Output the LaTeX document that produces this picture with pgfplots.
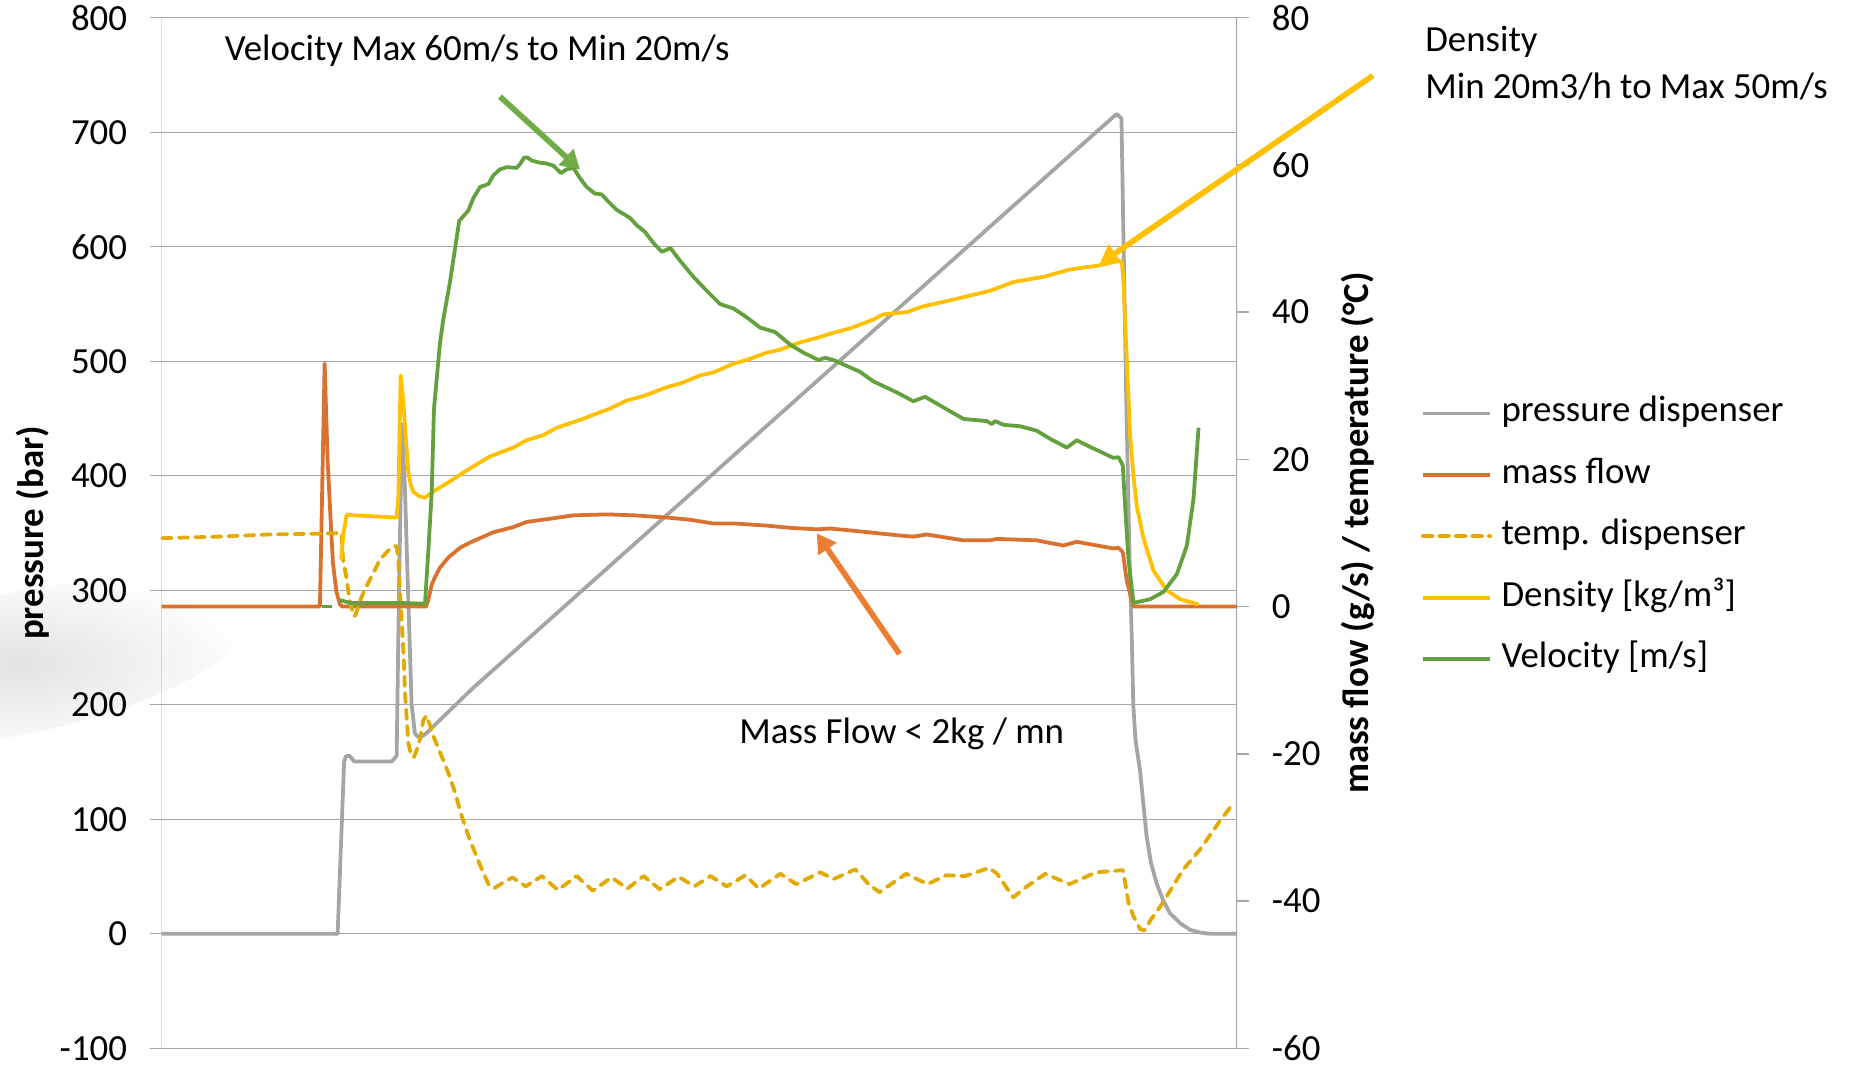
\documentclass[border=0pt]{standalone}
\usepackage{fontspec}
\setmainfont{Carlito}
\usepackage{pgfplots}
\pgfplotsset{compat=1.18}
\usetikzlibrary{arrows.meta}
\definecolor{cPress}{HTML}{A5A5A5}
\definecolor{cMass}{HTML}{D9722F}
\definecolor{cTemp}{HTML}{E2AA00}
\definecolor{cDens}{HTML}{FFC000}
\definecolor{cVel}{HTML}{63A03E}
\definecolor{cGrid}{HTML}{A6A6A6}
\definecolor{aGreen}{HTML}{70AD47}
\definecolor{aOrange}{HTML}{ED7D31}
\begin{document}
\fontsize{15.6}{18.7}\selectfont
\begin{tikzpicture}[font=\fontsize{15.6}{18.7}\selectfont]
\useasboundingbox (0,0) rectangle (784pt,-452pt);
\shade[inner color=black!11, outer color=white, rotate around={12:(8pt,-281pt)}] (8pt,-281pt) ellipse (100pt and 30pt);
\pgfplotsset{base/.style={scale only axis, width=455.5pt, height=436.5pt,
  at={(68.5pt,-444pt)}, anchor=south west, xmin=137, xmax=1048,
  xtick=\empty, axis line style={draw=none}, tick align=outside,
  major tick length=5pt, ytick style={draw=cGrid, line width=0.6pt},
  every axis plot/.append style={line join=round}}}
\begin{axis}[base, ymin=-100, ymax=800, ytick={-100,0,...,800},
  yticklabels={-100,0,100,200,300,400,500,600,700,800},
  ytick pos=left, yticklabel pos=left, ymajorgrids, grid style={cGrid, line width=0.6pt},
  yticklabel style={inner sep=0pt, xshift=-9.5pt},
  ylabel={\textbf{pressure (bar)}},
  ylabel style={at={(axis description cs:-0.1197,0.5)}, anchor=center, rotate=0}]
\draw[cGrid, line width=0.6pt] (rel axis cs:0,0) -- (rel axis cs:0,1);
\draw[cGrid, line width=0.6pt] (rel axis cs:1,0) -- (rel axis cs:1,1);
\addplot[cPress, line width=1.6pt] coordinates {
(137,0)(286,0)(291.5,150)(293,155)(296,155.5)(300,150.5)(332,150.5)(336,155.5)
(338,300)(340.5,445)(343,390)(345,320)(348.7,200)(351.5,175)(354,172)(357,172)(361,175)
(400,214)(450,260)(500,306)(550,352)(600,398)(650,444)(700,490)(750,536)(800,582)
(850,628)(900,674)(946,716)(950,712)(951.5,620)(954,470)(957,320)(958.7,260)(960,200)
(962,168)(965.7,143)(971.3,85)(975,62)(979.8,44)(985,30)(991,18)(1000,9)(1008,3.5)
(1017,1)(1025,0)(1048,0)};
\end{axis}
\begin{axis}[base, ymin=-60, ymax=80, ytick={-60,-40,...,80},
  yticklabels={-60,-40,-20,0,20,40,60,80},
  ytick pos=right, yticklabel pos=right,
  yticklabel style={inner sep=0pt, xshift=9.5pt},
  ylabel={\textbf{mass flow (g/s) / temperature (°C)}},
  ylabel style={at={(axis description cs:1.112,0.5)}, anchor=center, rotate=0},
  clip=false,
  legend cell align=left,
  legend image code/.code={\draw[#1] (0pt,0pt) -- (28.5pt,0pt);},
  legend style={at={(1.1705,0.6335)}, anchor=north west, draw=none, fill=none,
    inner sep=0pt, row sep=11pt, column sep=4pt,
    nodes={inner sep=0pt, text height=11pt, text depth=4pt, anchor=west}}]
\addlegendimage{cPress, line width=1.6pt}
\addlegendentry{pressure dispenser}
\addplot[cMass, line width=1.6pt] coordinates {
(137,0)(271,0)(275,33)(277.5,20)(280,12)(282,6)(285,2)(288,0.3)(290,0)(361,0)
(363,1)(365.7,3)(368.5,4)(372.7,5.3)(380,6.7)(389.7,8)(399.5,8.8)(406.6,9.3)(417.9,10.1)
(434.8,10.8)(446,11.5)(468.7,12)(485.7,12.4)(508.3,12.5)(519.5,12.5)(536.5,12.4)
(564.8,12.1)(584.6,11.8)(604,11.3)(621.3,11.3)(649.5,11)(669.3,10.7)(691.9,10.5)
(703.2,10.6)(717.2,10.4)(759.6,9.7)(773.7,9.5)(785,9.8)(816.1,9)(838.7,9)(844.3,9.2)
(878.2,9)(900.8,8.3)(912.1,8.8)(943.2,7.9)(947.5,8)(951.1,7.4)(954.5,3.5)(960.2,0)(1048,0)};
\addlegendentry{mass flow}
\addplot[cTemp, line width=1.6pt, line cap=round, dash pattern=on 4pt off 3pt] coordinates {
(137.5,9.3)(183.5,9.5)(228.7,9.8)(268.3,9.9)(289.4,10)(290.5,6.4)(293.7,3.7)(296,1)
(299.5,-1.3)(301,-1.2)(306,1.2)(310.6,2.8)(316,4.5)(321.9,6.4)(330,7.8)(334.6,8.2)(336,8.2)
(337.4,6.4)(338.5,3)(340.3,-2)(342,-7)(343.1,-11.7)(345.9,-18.5)(348,-20)(350.5,-20.5)
(353,-19.5)(355.8,-18)(358.5,-15.5)(361,-14.8)(364,-16)(367.1,-17.6)(372,-19.5)
(379.8,-22.6)(385,-25)(391,-28.4)(397.8,-31.6)(406.9,-35.2)(413.7,-37.7)(418.2,-38.3)
(426,-37.5)(434.1,-36.8)(445.4,-38)(459,-36.6)(472.6,-38.5)(488.5,-36.6)(502.1,-38.6)
(518,-36.8)(531.6,-38.3)(545.2,-36.6)(558.9,-38.4)(574.7,-36.7)(588.3,-38)(601.9,-36.6)
(615.6,-38)(631.5,-36.5)(642.8,-38.3)(661,-36.3)(674.5,-37.7)(694.9,-36.1)(706.3,-37)
(724.5,-35.7)(735.8,-37.7)(744.9,-38.8)(767.6,-36.3)(785.7,-37.7)(801.6,-36.5)
(817.5,-36.6)(837.9,-35.5)(844.7,-36.3)(858.3,-39.5)(870,-38)(885.5,-36.3)(905.9,-37.7)
(928.6,-36.1)(951.3,-35.8)(955.9,-40.2)(960,-42)(965.8,-43.8)(969.5,-44)(975,-42.5)
(983.1,-40.7)(1002.4,-35.7)(1016.5,-33)(1033.5,-29.1)(1042,-27.3)(1047.6,-27.1)};
\addlegendentry{temp. dispenser}
\addplot[cDens, line width=1.6pt] coordinates {
(289,6.4)(291,10)(293.7,12.5)(300,12.4)(324.7,12.2)(336,12.1)(337.5,15)(339.4,31.4)
(341.6,28)(343.1,24.5)(345.9,18.2)(348,16.5)(350.1,15.6)(355,15)(360,14.8)(365.7,15.5)
(381,17)(395.3,18.5)(415,20.4)(434.8,21.6)(446,22.6)(460.3,23.3)(471.6,24.3)(488.5,25.2)
(508.3,26.4)(516.8,26.9)(530.9,28)(545,28.6)(564.8,29.8)(576.1,30.3)(593,31.4)(604.3,31.8)
(621.3,33)(632.6,33.5)(649.5,34.5)(660.8,34.9)(677.8,35.9)(691.9,36.5)(706,37.2)
(720.2,37.8)(728.5,38.3)(739.8,39)(748.3,39.7)(768,40)(782.2,40.8)(804.8,41.6)
(838.7,42.9)(858.5,44.1)(883.9,44.8)(906.5,45.8)(929.1,46.3)(946,46.9)(950.3,46.9)
(951.7,44.1)(954,35.4)(957.3,23.3)(960,18)(963,13.6)(968.6,9.3)(977.1,4.9)(988.4,2.2)
(999.7,1)(1015.3,0.3)};
\addlegendentry{Density [kg/m³]}
\addplot[cVel, line width=1.6pt] coordinates {
(288,0.9)(296.5,0.5)(336,0.5)(360,0.4)(363,8)(365.7,15.5)(367.6,26.8)(372.7,35.8)
(375.5,39)(381.2,44.1)(389,52.4)(396.7,53.8)(401,55.5)(406.6,57)(413.7,57.4)(418,58.6)
(423.5,59.4)(429.2,59.7)(437.7,59.6)(440.5,60.1)(444,61)(447,61)(450.4,60.6)(457.4,60.3)
(463,60.2)(468.7,59.9)(475.2,58.9)(480,59.4)(485.7,59.6)(491.3,58.2)(497,57)(504,56.1)
(509.7,56)(515.4,55)(522.4,53.9)(533.7,52.8)(539.4,51.8)(546.4,50.9)(553.5,49.4)
(560.6,48.2)(568,48.7)(576,47)(587.4,44.8)(598.7,42.9)(610,41.1)(621.3,40.5)(632.6,39.3)
(643.9,37.9)(656.6,37.3)(669.3,35.6)(680.6,34.5)(693.3,33.5)(699,33.8)(706,33.5)
(714.4,32.9)(728.5,31.9)(739.8,30.6)(759.6,29.1)(773.7,27.9)(783.6,28.5)(802,26.8)
(816.1,25.5)(835.9,25.2)(840.1,24.8)(843,25.2)(850,24.7)(864.1,24.5)(878.2,23.9)
(889.5,22.8)(903.7,21.6)(912.1,22.6)(923.4,21.7)(943.2,20.2)(947.5,20.3)(951.1,19.2)
(953.1,13.6)(955.9,6.4)(960.2,0.5)(974.3,1)(985.6,2)(996.9,4.4)(1005.4,8.3)(1011,14.6)
(1015.3,24.3)};
\addlegendentry{Velocity [m/s]}
\addplot[cVel, line width=1.6pt, dash pattern=on 4pt off 3pt, forget plot] coordinates {(273,0)(286,0)};
% annotations
\draw[aGreen, line width=2.4pt, -{Triangle[length=8pt,width=9pt]}] (axis cs:423.5,69.29) -- (axis cs:491.3,59.36);
\draw[cDens, line width=2.4pt, -{Triangle[length=8pt,width=9pt]}] (axis cs:1163,72.14) -- (axis cs:931.4,46.52);
\draw[aOrange, line width=2.4pt, -{Triangle[length=8pt,width=9pt]}] (axis cs:762,-6.44) -- (axis cs:691.9,9.94);
\node[anchor=west, inner sep=0pt] at (axis cs:190,75.51) {Velocity Max 60m/s to Min 20m/s};
\node[anchor=west, inner sep=0pt] at (axis cs:1207,76.79) {Density};
\node[anchor=west, inner sep=0pt] at (axis cs:1207,70.70) {Min 20m3/h to Max 50m/s};
\node[anchor=west, inner sep=0pt] at (axis cs:626,-17.35) {Mass Flow < 2kg / mn};
\end{axis}
\end{tikzpicture}
\end{document}
